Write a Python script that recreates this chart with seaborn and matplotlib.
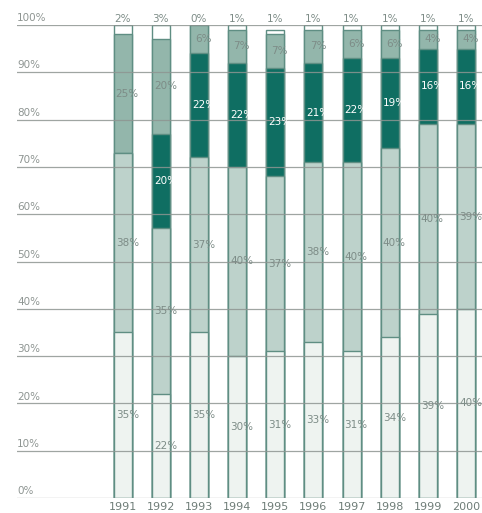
import matplotlib
matplotlib.use("Agg")
import matplotlib.pyplot as plt
import matplotlib.transforms as mtransforms
import pandas as pd
import seaborn as sns
import numpy as np

years = ["1991", "1992", "1993", "1994", "1995", "1996", "1997", "1998", "1999", "2000"]
# shares from the bottom of each bar up
seg1 = [35, 22, 35, 30, 31, 33, 31, 34, 39, 40]
seg2 = [38, 35, 37, 40, 37, 38, 40, 40, 40, 39]
seg3 = [0, 20, 22, 22, 23, 21, 22, 19, 16, 16]
seg4 = [25, 20, 6, 7, 7, 7, 6, 6, 4, 4]
seg5 = [2, 3, 0, 1, 1, 1, 1, 1, 1, 1]
ytick_labels = ["0%", "10%", "20%", "30%", "40%", "50%", "60%", "70%", "80%", "90%", "100%"]

layers = [seg1, seg2, seg3, seg4, seg5]
colors = ["#eef3f0", "#bdd2cb", "#0f6e62", "#93b6ab", "#ffffff"]
text_colors = ["#7d8c87", "#7d8c87", "#ffffff", "#7d8c87", "#7d8c87"]

df = pd.DataFrame({"year": years})
tops = np.cumsum(np.array(layers), axis=0)

fig = plt.figure(figsize=(4.82, 5.13), dpi=100)
ax = fig.add_axes([17 / 482, 15 / 513, 1 - 17 / 482, (498 - 25) / 513])

# gridlines run across the bars
for i, lab in enumerate(ytick_labels):
    ax.axhline(i * 10, color="#8e9592", lw=0.9, alpha=0.85, zorder=3)

# overlay cumulative bars, tallest first
for k in range(len(layers) - 1, -1, -1):
    df["top"] = tops[k]
    sns.barplot(data=df, x="year", y="top", color=colors[k], saturation=1,
                width=0.47, edgecolor="#5f8e83", linewidth=1.0, ax=ax, zorder=2)

# segment labels
bottoms = tops - np.array(layers)
for k in range(len(layers) - 1):
    for i in range(len(years)):
        v = layers[k][i]
        if v == 0:
            continue
        mid = bottoms[k][i] + v / 2
        ax.text(i + 0.12, mid, f"{v}%", ha="center", va="center",
                fontsize=7.5, color=text_colors[k], zorder=4)
for i in range(len(years)):
    ax.text(i, 100.3, f"{seg5[i]}%", ha="center", va="bottom",
            fontsize=7.5, color="#7d8c87", zorder=4)

# y labels sit on top of the gridlines
trans = mtransforms.blended_transform_factory(ax.transAxes, ax.transData)
for i, lab in enumerate(ytick_labels):
    ax.text(0.0, i * 10 + 0.4, lab, transform=trans, ha="left", va="bottom",
            fontsize=7.5, color="#8e9592")

ax.set_xlim(-2.77, 9.42)
ax.set_ylim(0, 100)
ax.set_xlabel("")
ax.set_ylabel("")
ax.set_yticks([])
ax.tick_params(axis="x", length=0, labelsize=8, labelcolor="#6f7d78", pad=3)
for s in ax.spines.values():
    s.set_visible(False)

fig.savefig("out.png", dpi=100)
